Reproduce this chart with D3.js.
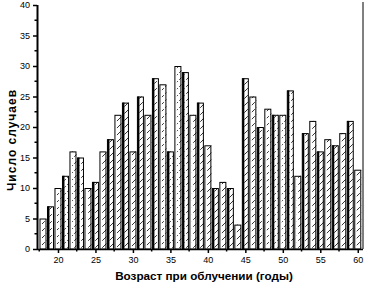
<!DOCTYPE html>
<html>
<head>
<meta charset="utf-8">
<script src="https://cdn.jsdelivr.net/npm/d3@7"></script>
<style>
  body { margin: 0; background: #fff; }
  text { font-family: "Liberation Sans", Arial, sans-serif; }
</style>
</head>
<body>
<svg id="drawing_region"></svg>
<script>
// age at exposure (years) and number of cases
const ages = [18, 19, 20, 21, 22, 23, 24, 25, 26, 27, 28, 29, 30, 31, 32, 33, 34, 35, 36, 37, 38,
              39, 40, 41, 42, 43, 44, 45, 46, 47, 48, 49, 50, 51, 52, 53, 54, 55, 56, 57, 58, 59, 60];
const cases = [5, 7, 10, 12, 16, 15, 10, 11, 16, 18, 22, 24, 16, 25, 22, 28, 27, 16, 30, 29, 22,
               24, 17, 10, 11, 10, 4, 28, 25, 20, 23, 22, 22, 26, 12, 19, 21, 16, 18, 17, 19, 21, 13];
const xTicks = [20, 25, 30, 35, 40, 45, 50, 55, 60];
const yTicks = [0, 5, 10, 15, 20, 25, 30, 35, 40];

const width = 365, height = 286;
const plot = {left: 37, right: 363, top: 5, bottom: 249};

const svg = d3.select('#drawing_region')
    .attr('width', width)
    .attr('height', height);

const x = d3.scaleLinear().domain([17.2, 60.7]).range([plot.left, plot.right]);
const y = d3.scaleLinear().domain([0, 40]).range([plot.bottom, plot.top]);

// diagonal hatch
const defs = svg.append('defs');
defs.append('pattern')
    .attr('id', 'hatch')
    .attr('patternUnits', 'userSpaceOnUse')
    .attr('width', 7).attr('height', 7)
  .append('path')
    .attr('d', 'M0,7 L7,0')
    .attr('stroke', '#000')
    .attr('stroke-width', 0.8)
    .attr('stroke-dasharray', '4,2');

const bw = 7;
const bars = svg.append('g');

bars.selectAll('rect.bg')
    .data(ages)
    .join('rect')
    .attr('class', 'bg')
    .attr('x', d => x(d) - bw / 2)
    .attr('y', (d, i) => y(cases[i]))
    .attr('width', bw)
    .attr('height', (d, i) => plot.bottom - y(cases[i]))
    .attr('fill', '#fff');

bars.selectAll('rect.hatch')
    .data(ages)
    .join('rect')
    .attr('class', 'hatch')
    .attr('x', d => x(d) - bw / 2 + 2.5)
    .attr('y', (d, i) => y(cases[i]))
    .attr('width', bw - 2.5)
    .attr('height', (d, i) => plot.bottom - y(cases[i]))
    .attr('fill', 'url(#hatch)');

bars.selectAll('rect.edge')
    .data(ages)
    .join('rect')
    .attr('class', 'edge')
    .attr('x', d => x(d) - bw / 2 + 0.5)
    .attr('y', (d, i) => y(cases[i]) + 0.5)
    .attr('width', bw - 1)
    .attr('height', (d, i) => plot.bottom - y(cases[i]) - 0.5)
    .attr('fill', 'none')
    .attr('stroke', '#000')
    .attr('stroke-width', 1);

// thicker left edges, the scan shows heavy black strips
bars.selectAll('line.strip')
    .data(ages.map((d, i) => i).filter(i => i % 2 === 1))
    .join('line')
    .attr('class', 'strip')
    .attr('x1', i => x(ages[i]) - bw / 2 + 1.5)
    .attr('x2', i => x(ages[i]) - bw / 2 + 1.5)
    .attr('y1', i => y(cases[i]))
    .attr('y2', plot.bottom)
    .attr('stroke', '#000')
    .attr('stroke-width', 2);

// axes
const xAxis = d3.axisBottom(x).tickValues(xTicks).tickSize(4).tickPadding(4).tickFormat(d3.format('d'));
const yAxis = d3.axisLeft(y).tickValues(yTicks).tickSize(4).tickPadding(3);

const gx = svg.append('g').attr('transform', `translate(0, ${plot.bottom})`).call(xAxis);
const gy = svg.append('g').attr('transform', `translate(${plot.left}, 0)`).call(yAxis);

gx.select('.domain').attr('d', `M${plot.left},0.5H${plot.right}`).attr('stroke-width', 1.5);
gy.select('.domain').attr('d', `M0.5,${plot.bottom}V${plot.top}`).attr('stroke-width', 2);
[gx, gy].forEach(g => {
    g.selectAll('.tick line').attr('stroke-width', 1.5);
    g.selectAll('.tick text').attr('font-size', 9).attr('fill', '#000');
});

// minor ticks
const xMinor = d3.range(17.5, 61, 2.5).filter(v => !xTicks.includes(v));
gx.selectAll('line.minor')
    .data(xMinor)
    .join('line')
    .attr('class', 'minor')
    .attr('x1', d => x(d)).attr('x2', d => x(d))
    .attr('y1', 0).attr('y2', 2.5)
    .attr('stroke', '#000').attr('stroke-width', 1.5);

const yMinor = d3.range(2.5, 40, 5);
gy.selectAll('line.minor')
    .data(yMinor)
    .join('line')
    .attr('class', 'minor')
    .attr('x1', -2.5).attr('x2', 0)
    .attr('y1', d => y(d)).attr('y2', d => y(d))
    .attr('stroke', '#000').attr('stroke-width', 1.5);

// right frame line
svg.append('line')
    .attr('x1', plot.right).attr('x2', plot.right)
    .attr('y1', plot.top - 3).attr('y2', plot.bottom)
    .attr('stroke', '#000').attr('stroke-width', 1);

// titles
svg.append('text')
    .attr('x', 204).attr('y', 280)
    .attr('text-anchor', 'middle')
    .attr('font-size', 11.7).attr('font-weight', 'bold')
    .text('Возраст при облучении (годы)');

svg.append('text')
    .attr('transform', `translate(16, 140) rotate(-90)`)
    .attr('text-anchor', 'middle')
    .attr('font-size', 12).attr('font-weight', 'bold')
    .attr('letter-spacing', 1)
    .text('Число случаев');
</script>
</body>
</html>
